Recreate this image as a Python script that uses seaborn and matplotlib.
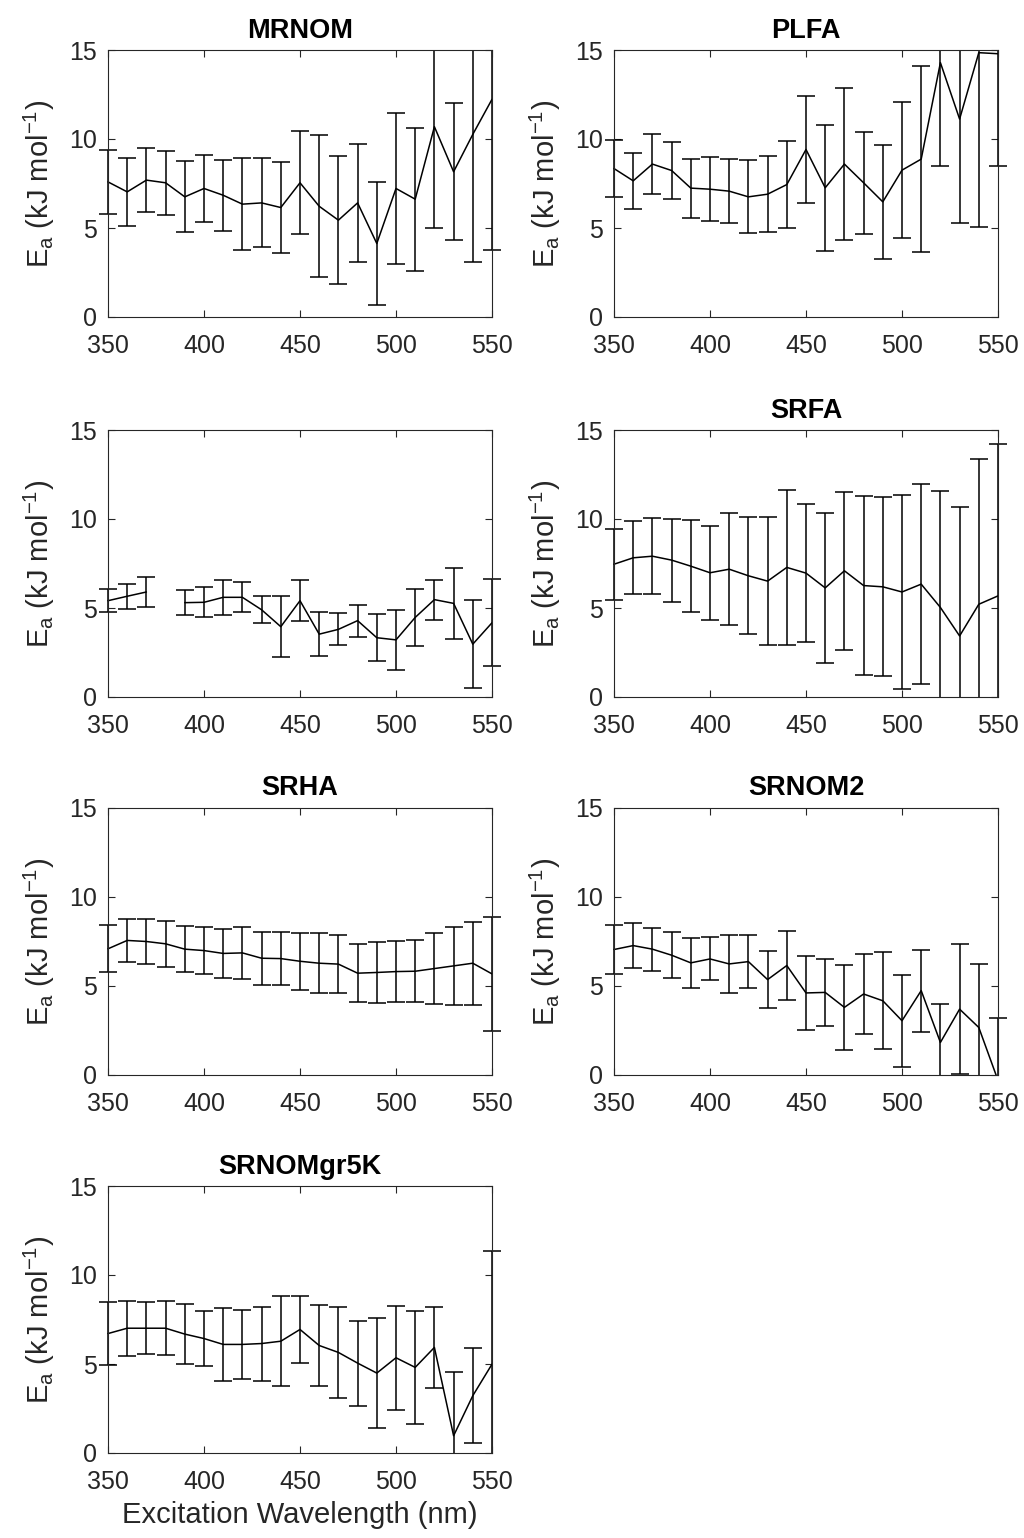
import numpy as np
import matplotlib
matplotlib.use("Agg")
import matplotlib.pyplot as plt
from matplotlib.patches import Rectangle
import seaborn as sns

# ---------------- data ----------------
wavelength = [350, 360, 370, 380, 390, 400, 410, 420, 430, 440, 450,
              460, 470, 480, 490, 500, 510, 520, 530, 540, 550]

mrnom_mean = [7.59, 7.03, 7.69, 7.54, 6.75, 7.22, 6.84, 6.34, 6.41, 6.15, 7.54,
              6.22, 5.44, 6.41, 4.13, 7.22, 6.62, 10.69, 8.16, 10.26, 12.23]
mrnom_err = [1.82, 1.92, 1.79, 1.80, 2.00, 1.90, 2.00, 2.57, 2.50, 2.56, 2.89,
             3.98, 3.60, 3.30, 3.47, 4.25, 4.02, 5.69, 3.84, 7.15, 8.48]

plfa_mean = [8.34, 7.65, 8.59, 8.23, 7.24, 7.18, 7.07, 6.75, 6.90, 7.44, 9.41,
             7.26, 8.59, 7.54, 6.47, 8.25, 8.87, 14.29, 11.12, 14.85, 14.79]
plfa_err = [1.62, 1.57, 1.69, 1.58, 1.66, 1.79, 1.79, 2.05, 2.14, 2.42, 2.99,
            3.55, 4.27, 2.88, 3.22, 3.81, 5.24, 5.81, 5.85, 9.81, 6.31]

untitled_mean = [5.41, 5.66, 5.90, np.nan, 5.30, 5.32, 5.60, 5.60, 4.90, 3.95, 5.41,
                 3.53, 3.80, 4.29, 3.33, 3.21, 4.47, 5.47, 5.26, 2.97, 4.17]
untitled_err = [0.63, 0.71, 0.83, np.nan, 0.72, 0.85, 1.00, 0.84, 0.77, 1.73, 1.16,
                1.24, 0.90, 0.90, 1.33, 1.70, 1.62, 1.13, 2.00, 2.46, 2.45]

srfa_mean = [7.46, 7.82, 7.91, 7.69, 7.35, 6.98, 7.18, 6.81, 6.51, 7.28, 6.96,
             6.13, 7.09, 6.26, 6.19, 5.90, 6.34, 5.03, 3.43, 5.21, 5.68]
srfa_err = [2.00, 2.05, 2.12, 2.33, 2.57, 2.63, 3.15, 3.28, 3.58, 4.34, 3.86,
            4.22, 4.45, 5.03, 5.03, 5.44, 5.63, 6.56, 7.26, 8.16, 8.53]

srha_mean = [7.09, 7.56, 7.50, 7.37, 7.07, 6.99, 6.83, 6.86, 6.56, 6.54, 6.39,
             6.28, 6.23, 5.72, 5.76, 5.81, 5.83, 5.98, 6.13, 6.28, 5.68]
srha_err = [1.32, 1.23, 1.25, 1.29, 1.30, 1.30, 1.36, 1.44, 1.50, 1.50, 1.60,
            1.67, 1.61, 1.62, 1.70, 1.73, 1.74, 2.00, 2.17, 2.33, 3.18]

srnom2_mean = [7.05, 7.27, 7.07, 6.73, 6.30, 6.52, 6.24, 6.37, 5.36, 6.15, 4.61,
               4.64, 3.80, 4.55, 4.17, 3.05, 4.74, 1.83, 3.70, 2.67, -0.30]
srnom2_err = [1.37, 1.27, 1.20, 1.28, 1.41, 1.21, 1.62, 1.50, 1.58, 1.96, 2.06,
              1.89, 2.40, 2.27, 2.73, 2.58, 2.30, 2.17, 3.67, 3.57, 3.50]

gr5k_mean = [6.71, 7.01, 7.01, 7.01, 6.68, 6.43, 6.10, 6.10, 6.15, 6.28, 6.94,
             6.04, 5.65, 5.05, 4.49, 5.35, 4.81, 5.93, 0.97, 3.22, 4.99]
gr5k_err = [1.78, 1.55, 1.45, 1.52, 1.68, 1.54, 2.04, 1.96, 2.08, 2.54, 1.88,
            2.25, 2.56, 2.39, 3.08, 2.93, 3.16, 2.29, 3.60, 2.66, 6.36]

titles = ["MRNOM", "PLFA", "", "SRFA", "SRHA", "SRNOM2", "SRNOMgr5K"]
means = [mrnom_mean, plfa_mean, untitled_mean, srfa_mean, srha_mean, srnom2_mean, gr5k_mean]
errs = [mrnom_err, plfa_err, untitled_err, srfa_err, srha_err, srnom2_err, gr5k_err]

x_ticks = [350, 400, 450, 500, 550]
y_ticks = [0, 5, 10, 15]

# ---------------- style ----------------
sns.set_theme(style="ticks")
plt.rcParams['font.family'] = ['Liberation Sans', 'DejaVu Sans']
plt.rcParams['mathtext.fontset'] = 'custom'
plt.rcParams['mathtext.rm'] = 'Liberation Sans'
dark = '#262626'

fig = plt.figure(figsize=(10.24, 15.38), dpi=100)

W = 1024.0
H = 1538.0
col_left = [108, 614]
col_w = 384
row_top = [50, 430, 808, 1186]
row_h = 267

for i in range(7):
    r, c = divmod(i, 2)
    ax = fig.add_axes([col_left[c] / W, 1 - (row_top[r] + row_h) / H,
                       col_w / W, row_h / H])
    cont = ax.errorbar(wavelength, means[i], yerr=errs[i], color='black',
                       lw=1.1, elinewidth=1.1, capsize=6.5, capthick=1.1)
    clip = Rectangle((-0.06, 0.0), 1.12, 1.0, transform=ax.transAxes,
                     facecolor='none', edgecolor='none')
    ax.add_patch(clip)
    for art in cont.lines[1] + tuple(cont.lines[2]):
        art.set_clip_path(clip)
    cont.lines[0].set_clip_path(clip)

    ax.set_xlim(350, 550)
    ax.set_ylim(0, 15)
    ax.set_xticks(x_ticks)
    ax.set_yticks(y_ticks)
    ax.tick_params(direction='in', length=5, width=0.8, top=True, right=True,
                   labelsize=18, colors=dark)
    ax.tick_params(axis='x', pad=12)
    ax.tick_params(axis='y', pad=8)
    for sp in ax.spines.values():
        sp.set_visible(True)
        sp.set_color(dark)
        sp.set_linewidth(0.8)
    if titles[i]:
        ax.set_title(titles[i], fontsize=19.5, fontweight='bold', color='black', pad=9)
    ax.set_ylabel(r'E$_\mathregular{a}$ (kJ mol$^\mathregular{-1}$)', fontsize=21,
                  color=dark, labelpad=9)
    if i == 6:
        ax.set_xlabel('Excitation Wavelength (nm)', fontsize=21, color=dark, labelpad=5)

fig.savefig('out.png', dpi=100)
